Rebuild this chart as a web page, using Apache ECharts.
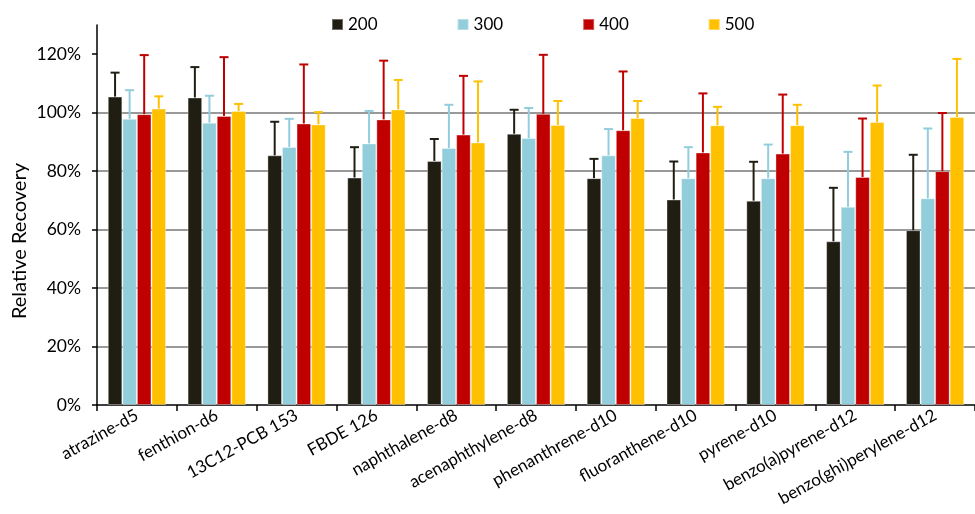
<!DOCTYPE html>
<html><head><meta charset="utf-8">
<script src="https://cdn.jsdelivr.net/npm/echarts@6/dist/echarts.min.js"></script>
<style>html,body{margin:0;padding:0;background:#fff}#c{width:975px;height:514px}</style>
</head><body><div id="c"></div>
<script>
var categories = ['atrazine-d5','fenthion-d6','13C12-PCB 153','FBDE 126','naphthalene-d8','acenaphthylene-d8','phenanthrene-d10','fluoranthene-d10','pyrene-d10','benzo(a)pyrene-d12','benzo(ghi)perylene-d12'];
var seriesNames = ['200','300','400','500'];
var v200 = [105.5,105.2,85.4,77.8,83.5,92.8,77.6,70.3,69.9,56.0,59.8];
var v300 = [97.9,96.6,88.3,89.5,87.9,91.3,85.4,77.6,77.6,67.8,70.7];
var v400 = [99.5,98.9,96.3,97.7,92.5,99.6,94.0,86.4,86.0,78.0,80.0];
var v500 = [101.4,100.6,96.0,101.1,89.8,95.8,98.2,95.7,95.7,96.8,98.5];
var up200 = [113.7,115.6,96.9,88.2,91.0,101.0,84.2,83.3,83.2,74.3,85.6];
var up300 = [107.7,105.8,97.9,100.6,102.7,101.6,94.4,88.2,89.1,86.6,94.6];
var up400 = [119.7,119.0,116.5,117.8,112.6,119.8,114.1,106.6,106.2,98.0,99.9];
var up500 = [105.6,103.0,100.2,111.2,110.7,104.0,104.0,102.0,102.7,109.3,118.4];
var yTicks = [0,20,40,60,80,100,120];

var colors = ['#201E13','#92CDDC','#C00000','#FFC000'];
var values = [v200,v300,v400,v500];
var uppers = [up200,up300,up400,up500];
var FONT = 'Lato';
var catGap = 0.27;

var series = [];
values.forEach(function(vals, i){
  series.push({
    name: seriesNames[i], type: 'bar', data: vals,
    barGap: '0%', barCategoryGap: (catGap*100)+'%',
    itemStyle: {color: colors[i], borderColor: 'rgba(255,255,255,0.35)', borderWidth: 1},
    z: 2
  });
});
uppers.forEach(function(ups, i){
  series.push({
    name: seriesNames[i], type: 'custom',
    data: ups.map(function(u, k){ return [k, values[i][k], u]; }),
    encode: {x: 0, y: 2},
    z: 3,
    renderItem: function(params, api){
      var k = api.value(0);
      var base = api.coord([k, api.value(1)]);
      var top = api.coord([k, api.value(2)]);
      var band = api.size([1, 0])[0];
      var bw = band * (1 - catGap) / 4;
      var x = base[0] - band*(1-catGap)/2 + bw*(i + 0.5);
      var cap = 4.5;
      var st = {stroke: colors[i], lineWidth: 2};
      return {type: 'group', children: [
        {type: 'line', shape: {x1: x, y1: base[1], x2: x, y2: top[1]}, style: st},
        {type: 'line', shape: {x1: x - cap, y1: top[1], x2: x + cap, y2: top[1]}, style: st}
      ]};
    },
    tooltip: {show: false}
  });
});

var chart = echarts.init(document.getElementById('c'));
chart.setOption({
  animation: false,
  textStyle: {fontFamily: FONT},
  legend: {
    data: seriesNames, left: 326, top: 11, itemWidth: 11, itemHeight: 11, itemGap: 79,
    icon: 'rect', textStyle: {fontSize: 17, color: '#000', fontFamily: FONT}
  },
  grid: {left: 97, top: 25, width: 885, bottom: 109, containLabel: false},
  graphic: [{
    type: 'text', left: 10, top: 163, rotation: Math.PI/2,
    style: {text: 'Relative Recovery', fontSize: 20, fill: '#000', fontFamily: FONT},
    silent: true
  }],
  xAxis: {
    type: 'category', data: categories,
    axisLine: {lineStyle: {color: '#000', width: 1.5}},
    axisTick: {show: true, length: 6, lineStyle: {color: '#000', width: 1.5}},
    axisLabel: {rotate: 29, fontSize: 17, color: '#000', margin: 9, interval: 0, fontFamily: FONT},
    splitLine: {show: false}
  },
  yAxis: {
    type: 'value', min: 0, max: 130, interval: 20,
    axisLine: {show: true, lineStyle: {color: '#000', width: 1.5}},
    axisTick: {show: true, length: 5, customValues: yTicks, lineStyle: {color: '#000', width: 1.5}},
    axisLabel: {fontSize: 17.5, color: '#000', margin: 16, customValues: yTicks, fontFamily: FONT,
      formatter: function(v){ return v + '%'; }},
    splitLine: {show: true, showMinLine: false, showMaxLine: false, lineStyle: {color: '#999', width: 2}}
  },
  series: series
});
</script></body></html>
